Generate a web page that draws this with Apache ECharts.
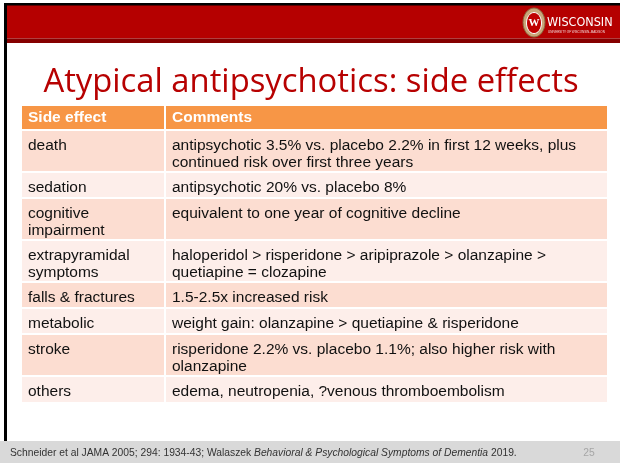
<!DOCTYPE html>
<html><head><meta charset="utf-8">
<script src="https://cdn.jsdelivr.net/npm/echarts@6/dist/echarts.min.js"></script>
<style>html,body{margin:0;padding:0;background:#fff}#c{width:620px;height:463px}</style>
</head><body><div id="c"></div>
<script>
// ---- data ----
const titleText = 'Atypical antipsychotics: side effects';
const headers = ['Side effect', 'Comments'];
const sideEffects = [
  ['death'],
  ['sedation'],
  ['cognitive', 'impairment'],
  ['extrapyramidal', 'symptoms'],
  ['falls & fractures'],
  ['metabolic'],
  ['stroke'],
  ['others']
];
const comments = [
  ['antipsychotic 3.5% vs. placebo 2.2% in first 12 weeks, plus', 'continued risk over first three years'],
  ['antipsychotic 20% vs. placebo 8%'],
  ['equivalent to one year of cognitive decline'],
  ['haloperidol > risperidone > aripiprazole > olanzapine >', 'quetiapine = clozapine'],
  ['1.5-2.5x increased risk'],
  ['weight gain: olanzapine > quetiapine & risperidone'],
  ['risperidone 2.2% vs. placebo 1.1%; also higher risk with', 'olanzapine'],
  ['edema, neutropenia, ?venous thromboembolism']
];
const footnoteBefore = 'Schneider et al JAMA 2005; 294: 1934-43; Walaszek ';
const footnoteItalic = 'Behavioral & Psychological Symptoms of Dementia';
const footnoteAfter = ' 2019.';
const pageNumber = '25';

// ---- layout derived from the data ----
const HEADER_H = 24, LINE_H = 16, ROW_BASE = 26;
const rowH = [HEADER_H];
sideEffects.forEach((s, i) => {
  const n = Math.max(s.length, comments[i].length);
  rowH.push(ROW_BASE + LINE_H * (n - 1));
});
const rowTop = [];
let acc = 0;
rowH.forEach(h => { rowTop.push(acc); acc += h; });
const TOTAL = acc;
const TABLE_W = 585, COL_SPLIT = 143;
const colEdges = [0, COL_SPLIT, TABLE_W];
const cells = [];
for (let r = 0; r <= sideEffects.length; r++) for (let c = 0; c < 2; c++) cells.push([c, r]);

function cellLines(c, r) {
  if (r === 0) return [headers[c]];
  return c === 0 ? sideEffects[r - 1] : comments[r - 1];
}

const chart = echarts.init(document.getElementById('c'), null, {renderer: 'canvas'});
const option = {
  animation: false,
  backgroundColor: '#ffffff',
  grid: {left: 22, top: 106, width: TABLE_W, height: TOTAL},
  xAxis: {type: 'value', min: 0, max: TABLE_W, show: false},
  yAxis: {type: 'value', min: 0, max: TOTAL, inverse: true, show: false},
  series: [{
    type: 'custom',
    coordinateSystem: 'cartesian2d',
    data: cells,
    silent: true,
    renderItem: function (params, api) {
      const c = api.value(0), r = api.value(1);
      const p0 = api.coord([colEdges[c], rowTop[r]]);
      const p1 = api.coord([colEdges[c + 1], rowTop[r] + rowH[r]]);
      const lastRow = rowH.length - 1;
      const x0 = p0[0] + (c > 0 ? 1 : 0);
      const x1 = p1[0] - (c < 1 ? 1 : 0);
      const y0 = p0[1] + (r > 0 ? 1 : 0);
      const y1 = p1[1] - (r < lastRow ? 1 : 0);
      let fill;
      if (r === 0) fill = '#F79646';
      else fill = (r % 2 === 1) ? '#FCDDD1' : '#FDEEEA';
      const lines = cellLines(c, r);
      const isHead = r === 0;
      return {
        type: 'group',
        children: [
          {type: 'rect', shape: {x: x0, y: y0, width: x1 - x0, height: y1 - y0}, style: {fill: fill}},
          {
            type: 'text',
            x: x0 + 6,
            y: isHead ? (y0 + y1) / 2 + 0.5 : y0 + 6,
            style: {
              text: lines.join('\n'),
              fill: isHead ? '#ffffff' : '#111111',
              font: (isHead ? 'bold ' : '') + '15.5px "Liberation Sans", Arial, sans-serif',
              lineHeight: 17,
              align: 'left',
              verticalAlign: isHead ? 'middle' : 'top'
            }
          }
        ]
      };
    }
  }],
  graphic: [
    // slide frame
    {type: 'rect', shape: {x: 4, y: 3, width: 616, height: 3}, style: {fill: '#000'}},
    {type: 'rect', shape: {x: 4, y: 3, width: 3, height: 438}, style: {fill: '#000'}},
    {type: 'rect', shape: {x: 7, y: 5.5, width: 613, height: 33}, style: {fill: '#B50000'}},
    {type: 'rect', shape: {x: 7, y: 38.5, width: 613, height: 4.5}, style: {fill: '#850000'}},
    // logo
    {type: 'ellipse', shape: {cx: 534, cy: 22.5, rx: 11, ry: 14.5}, style: {fill: '#C9A77A', stroke: '#8a6a40', lineWidth: 1}},
    {type: 'ellipse', shape: {cx: 534, cy: 23, rx: 7.5, ry: 10.5}, style: {fill: '#C00000', stroke: '#ffffff', lineWidth: 1}},
    {type: 'text', x: 534, y: 23.5, style: {text: 'W', fill: '#ffffff', font: 'bold 11px "Liberation Serif", serif', align: 'center', verticalAlign: 'middle'}},
    {type: 'text', x: 547, y: 23, style: {text: 'WISCONSIN', fill: '#ffffff', font: '12.5px "DejaVu Sans Condensed", "Liberation Sans", sans-serif', align: 'left', verticalAlign: 'middle'}},
    {type: 'text', x: 548, y: 32.5, style: {text: 'UNIVERSITY OF WISCONSIN\u2013MADISON', fill: '#f3dede', font: '3px "Liberation Sans", sans-serif', align: 'left', verticalAlign: 'middle'}},
    // title
    {type: 'text', x: 311, y: 82.5, style: {text: titleText, fill: '#B70101', font: '32.8px "Open Sans", Lato, sans-serif', align: 'center', verticalAlign: 'middle'}},
    // footer
    {type: 'rect', shape: {x: 0, y: 441, width: 620, height: 22}, style: {fill: '#D9D9D9'}},
    {type: 'text', x: 10, y: 453, style: {
      text: '{n|' + footnoteBefore + '}{i|' + footnoteItalic + '}{n|' + footnoteAfter + '}',
      align: 'left', verticalAlign: 'middle',
      rich: {
        n: {fill: '#333333', font: '10.3px "Liberation Sans", Arial, sans-serif'},
        i: {fill: '#333333', font: 'italic 10.3px "Liberation Sans", Arial, sans-serif'}
      }
    }},
    {type: 'text', x: 589, y: 453, style: {text: pageNumber, fill: '#A6A6A6', font: '10.3px "Liberation Sans", Arial, sans-serif', align: 'center', verticalAlign: 'middle'}}
  ]
};
chart.setOption(option);
</script>
</body></html>
